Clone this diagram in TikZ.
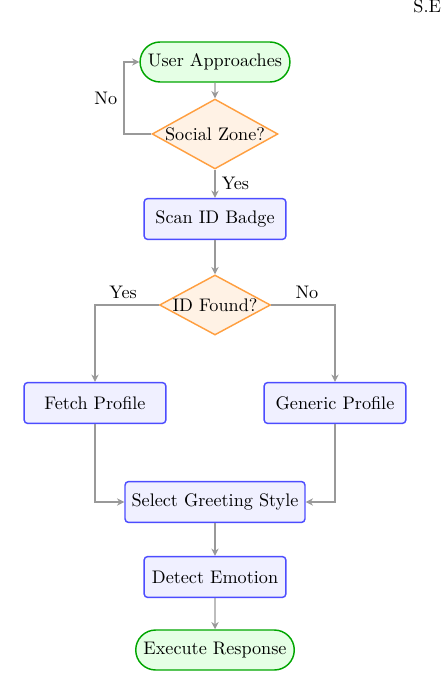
\documentclass[tikz,border=0pt]{standalone}
\usepackage{tikz}
\usetikzlibrary{positioning,shapes.geometric,shapes.misc,arrows.meta}
\tikzset{dterm/.style={rounded rectangle, draw=green!65!black, fill=green!10, thick, minimum width=81pt, minimum height=22pt, align=center}}
\tikzset{dproc/.style={rounded corners=2, draw=blue!70, fill=blue!6, thick, minimum width=78pt, minimum height=22.5pt, align=center}}
\tikzset{ddec/.style={diamond, aspect=1.8, draw=orange!75, fill=orange!10, thick, inner sep=0.2pt, align=center}}
\tikzset{arr/.style={draw=black!40, thick, -{Stealth[length=4pt,width=4pt]}}}

\begin{document}
\begin{tikzpicture}[x=0.55pt, y=-0.55pt]
	\useasboundingbox (0,0) rectangle (440,690);
	\node[anchor=west] (tag) at (407,6) {S.E};
	% main column
	\node[dterm] (user) at (215,62) {User Approaches};
	\node[ddec] (zone) at (215,134) {Social Zone?};
	\node[dproc] (scan) at (215,219) {Scan ID Badge};
	\node[ddec, aspect=1.85] (found) at (215,305) {ID Found?};
	\node[dproc] (fetch) at (95,403) {Fetch Profile};
	\node[dproc] (generic) at (335,403) {Generic Profile};
	\node[dproc, minimum width=99pt] (greet) at (215,502) {Select Greeting Style};
	\node[dproc] (emotion) at (215,577) {Detect Emotion};
	\node[dterm, minimum width=86pt] (exec) at (215,650) {Execute Response};
	\coordinate (loop) at (124,134);
	% connectors
	\draw[arr] (user) -- (zone);
	\draw[arr] (zone.west) -- (loop) |- node[left, pos=0.25]{No} (user.west);
	\draw[arr] (zone) -- node[right]{Yes} (scan);
	\draw[arr] (scan) -- (found);
	\draw[arr] (found.west) -| node[above, pos=0.28]{Yes} (fetch.north);
	\draw[arr] (found.east) -| node[above, pos=0.28]{No} (generic.north);
	\draw[arr] (fetch.south) |- (greet.west);
	\draw[arr] (generic.south) |- (greet.east);
	\draw[arr] (greet) -- (emotion);
	\draw[arr] (emotion) -- (exec);
\end{tikzpicture}
\end{document}
